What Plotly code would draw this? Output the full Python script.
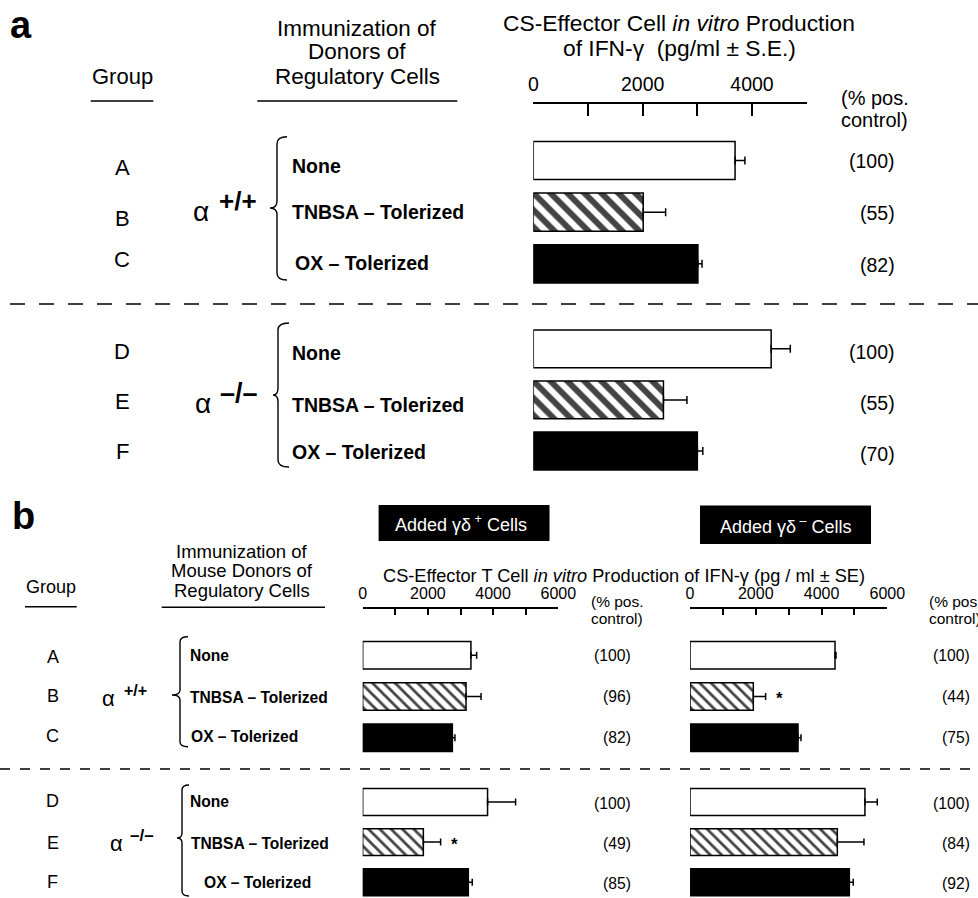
import plotly.graph_objects as go

W, H = 978, 898
FONT = "Liberation Sans, Arial, Helvetica, sans-serif"

# ---------------- data ----------------
rows_top = ["A", "B", "C"]
rows_bot = ["D", "E", "F"]
treatments = ["None", "TNBSA – Tolerized", "OX – Tolerized"]

# panel a : IFN-gamma (pg/ml) and S.E.
ifn_a_top = [3690, 2010, 3010]
err_a_top = [180, 410, 75]
ifn_a_bot = [4350, 2380, 3000]
err_a_bot = [350, 430, 100]
pct_a_top = [100, 55, 82]
pct_a_bot = [100, 55, 70]

# panel b : added gamma-delta+ cells
ifn_bp_top = [3320, 3170, 2750]
err_bp_top = [175, 460, 80]
ifn_bp_bot = [3830, 1860, 3240]
err_bp_bot = [860, 530, 120]
pct_bp_top = [100, 96, 82]
pct_bp_bot = [100, 49, 85]
star_bp_top = ["", "", ""]
star_bp_bot = ["", "*", ""]

# panel b : added gamma-delta- cells
ifn_bm_top = [4410, 1925, 3285]
err_bm_top = [30, 375, 90]
ifn_bm_bot = [5320, 4480, 4845]
err_bm_bot = [375, 810, 120]
pct_bm_top = [100, 44, 75]
pct_bm_bot = [100, 84, 92]
star_bm_top = ["", "*", ""]
star_bm_bot = ["", "", ""]

ticks_a = [0, 2000, 4000]
ticklabels_a = ["0", "2000", "4000"]
ticks_b = [0, 2000, 4000, 6000]
ticklabels_b = ["0", "2000", "4000", "6000"]
minor_step = 1000

fills = ["white", "white", "black"]
hatches = ["", "\\", ""]


# ---------------- helpers ----------------
def px(x):
    return x / W


def py(y):
    return 1 - y / H


fig = go.Figure()


def add_bars(vals, errs, rows, xa, ya, width, hsize, hsol, capw):
    fig.add_trace(go.Bar(
        orientation="h", x=vals, y=rows, xaxis=xa, yaxis=ya, width=width,
        marker=dict(color=fills, line=dict(color="black", width=1.5),
                    pattern=dict(shape=hatches, fgcolor="black", bgcolor="white",
                                 fgopacity=1, size=hsize, solidity=hsol)),
        error_x=dict(type="data", symmetric=False, array=errs,
                     arrayminus=[0] * len(errs), color="black",
                     thickness=1.5, width=capw),
        showlegend=False, hoverinfo="skip"))


add_bars(ifn_a_top, err_a_top, rows_top, "x", "y", 0.74, 12, 0.5, 4)
add_bars(ifn_a_bot, err_a_bot, rows_bot, "x2", "y2", 0.74, 12, 0.5, 4)
add_bars(ifn_bp_top, err_bp_top, rows_top, "x3", "y3", 0.67, 8, 0.35, 3.5)
add_bars(ifn_bp_bot, err_bp_bot, rows_bot, "x4", "y4", 0.67, 8, 0.35, 3.5)
add_bars(ifn_bm_top, err_bm_top, rows_top, "x5", "y3", 0.67, 8, 0.35, 3.5)
add_bars(ifn_bm_bot, err_bm_bot, rows_bot, "x6", "y4", 0.67, 8, 0.35, 3.5)


def yax(rows, top, bot, first, spacing, anchor):
    return dict(domain=[py(bot), py(top)], type="category",
                categoryorder="array", categoryarray=rows,
                range=[(bot - first) / spacing, (top - first) / spacing],
                visible=False, fixedrange=True, anchor=anchor)


def xax_vis(x0, x1, rng, tv, tt, liney, ticklen, fsize, standoff):
    return dict(domain=[px(x0), px(x1)], range=rng, anchor="free",
                position=py(liney), side="top", ticks="inside",
                ticklen=ticklen, tickwidth=1.5, tickcolor="black",
                showline=True, linecolor="black", linewidth=1.5,
                tickmode="array", tickvals=tv, ticktext=tt,
                minor=dict(tick0=0, dtick=minor_step, ticks="inside",
                           ticklen=ticklen, tickwidth=1.5, tickcolor="black",
                           showgrid=False),
                showgrid=False, zeroline=False,
                tickfont=dict(size=fsize, color="black", family=FONT),
                ticklabelstandoff=standoff, fixedrange=True)


def xax_hid(x0, x1, rng, anchor):
    return dict(domain=[px(x0), px(x1)], range=rng, anchor=anchor,
                visible=False, fixedrange=True)


A_X0, A_X1 = 533.3, 806.7
BP_X0, BP_X1 = 362.7, 558.3
BM_X0, BM_X1 = 690.0, 887.3

fig.update_layout(
    width=W, height=H, margin=dict(l=0, r=0, t=0, b=0, autoexpand=False),
    paper_bgcolor="white", plot_bgcolor="rgba(0,0,0,0)",
    font=dict(family=FONT, color="black"),
    barmode="overlay",
    xaxis=xax_vis(A_X0, A_X1, [0, 5000], ticks_a, ticklabels_a, 103.3, 12, 19.5, 4),
    xaxis2=xax_hid(A_X0, A_X1, [0, 5000], "y2"),
    xaxis3=xax_vis(BP_X0, BP_X1, [0, 6000], ticks_b, ticklabels_b, 608.3, 6, 16, 2),
    xaxis4=xax_hid(BP_X0, BP_X1, [0, 6000], "y4"),
    xaxis5=xax_vis(BM_X0, BM_X1, [0, 6000], ticks_b, ticklabels_b, 608.3, 6, 16, 2),
    xaxis6=xax_hid(BM_X0, BM_X1, [0, 6000], "y4"),
    yaxis=yax(rows_top, 125, 295, 160.5, 51.65, "x"),
    yaxis2=yax(rows_bot, 313, 487, 348.8, 51.1, "x2"),
    yaxis3=yax(rows_top, 628, 766, 655.3, 41.25, "x3"),
    yaxis4=yax(rows_bot, 778, 898, 802.0, 40.1, "x4"),
)

ann = []


def text(t, x, y, size, bold=False, xanchor="center", color="black"):
    if bold:
        t = "<b>" + t + "</b>"
    ann.append(dict(text=t, x=px(x), y=py(y), xref="paper", yref="paper",
                    xanchor=xanchor, yanchor="middle", showarrow=False,
                    font=dict(size=size, color=color, family=FONT)))


# ---------- panel a text ----------
text("a", 8, 25, 38, bold=True, xanchor="left")
text("Group", 122, 76, 22)
text("Immunization of", 357, 28, 22.5)
text("Donors of", 357, 52, 22.5)
text("Regulatory Cells", 357, 76.5, 22.5)
text("CS-Effector Cell <i>in vitro</i> Production", 679, 23, 22.8)
text("of IFN-γ  (pg/ml ± S.E.)", 679, 48, 22.8)
text("(% pos.", 839, 98, 20, xanchor="left")
text("control)", 839, 120, 20, xanchor="left")

for r, yv in zip(rows_top + rows_bot, [167.5, 218, 260, 352, 401.5, 451.5]):
    text(r, 122, yv, 22)
for t, yv in zip(treatments, [165.7, 212.3, 263.3]):
    text(t, 290 if t != "OX – Tolerized" else 292.5, yv, 19.5, bold=True, xanchor="left")
for t, yv in zip(treatments, [353.3, 405, 451.7]):
    text(t, 290, yv, 19.5, bold=True, xanchor="left")
text("α", 201, 211, 28)
text("+/+", 237.5, 201, 26, bold=True)
text("α", 202.5, 403, 28)
text("–/–", 239, 393, 27, bold=True)

# ---------- panel b text ----------
text("b", 10, 516, 38, bold=True, xanchor="left")
text("Group", 51, 586.5, 18)
text("Immunization of", 241.7, 551.5, 18.5)
text("Mouse Donors of", 241.7, 570.5, 18.5)
text("Regulatory Cells", 241.7, 590, 18.5)
text("CS-Effector T Cell <i>in vitro</i> Production of IFN-γ (pg / ml ± SE)", 624, 575.6, 18.2)
text("Added γδ<sup> +</sup> Cells", 461, 523, 18, color="white")
text("Added γδ<sup> –</sup> Cells", 786, 525.5, 18, color="white")
text("(% pos.", 588.5, 601.7, 15.5, xanchor="left")
text("control)", 588.5, 618.3, 15.5, xanchor="left")
text("(% pos.", 926.5, 601.7, 15.5, xanchor="left")
text("control)", 926.5, 618.3, 15.5, xanchor="left")

for r, yv in zip(rows_top + rows_bot, [656.5, 695.5, 735.5, 800.5, 843.3, 881.7]):
    text(r, 52.5, yv, 18)
for t, xv, yv in zip(treatments, [188.3, 188.3, 189.3], [655, 697.3, 736.7]):
    text(t, xv, yv, 15.6, bold=True, xanchor="left")
for t, xv, yv in zip(treatments, [188.3, 189.3, 201.7], [801.7, 843.3, 882.3]):
    text(t, xv, yv, 15.6, bold=True, xanchor="left")
text("α", 108.3, 698.5, 22)
text("+/+", 135.8, 690.5, 16, bold=True)
text("α", 116.7, 843.5, 22)
text("–/–", 141.7, 835.5, 17, bold=True)


# percentages and stars tied to the bar rows
def pct(vals, rows, yref, xright, size, yshift=0):
    for v, r in zip(vals, rows):
        ann.append(dict(text=f"({v})", x=px(xright), y=r, xref="paper", yref=yref,
                        xanchor="right", yanchor="middle", showarrow=False,
                        yshift=yshift, font=dict(size=size, color="black", family=FONT)))


pct(pct_a_top, rows_top, "y", 896.7, 19.5, -1)
pct(pct_a_bot, rows_bot, "y2", 896.7, 19.5, -3)
pct(pct_bp_top, rows_top, "y3", 633.3, 15.7)
pct(pct_bp_bot, rows_bot, "y4", 633.3, 15.7, -1)
pct(pct_bm_top, rows_top, "y3", 971.7, 15.7)
pct(pct_bm_bot, rows_bot, "y4", 971.7, 15.7, -1)


def stars(flags, vals, errs, rows, xref, yref):
    for f, v, e, r in zip(flags, vals, errs, rows):
        if f:
            ann.append(dict(text="<b>" + f + "</b>", x=v + e, y=r, xref=xref, yref=yref,
                            xanchor="center", yanchor="middle", showarrow=False,
                            xshift=13.5, yshift=-2,
                            font=dict(size=17, color="black", family=FONT)))


stars(star_bp_top, ifn_bp_top, err_bp_top, rows_top, "x3", "y3")
stars(star_bp_bot, ifn_bp_bot, err_bp_bot, rows_bot, "x4", "y4")
stars(star_bm_top, ifn_bm_top, err_bm_top, rows_top, "x5", "y3")
stars(star_bm_bot, ifn_bm_bot, err_bm_bot, rows_bot, "x6", "y4")

fig.update_layout(annotations=ann)

# ---------------- shapes ----------------
shapes = []


def hline(x0, x1, y, width=1.5, dash="solid"):
    shapes.append(dict(type="line", xref="paper", yref="paper",
                       x0=px(x0), x1=px(x1), y0=py(y), y1=py(y),
                       line=dict(color="black", width=width, dash=dash)))


def brace(cusp, xl, tip, top, mid, bot, r=7):
    def p(x, y):
        return f"{px(x):.5f},{py(y):.5f}"
    path = (f"M {p(tip, top)} Q {p(xl, top)} {p(xl, top + r)} "
            f"L {p(xl, mid - r)} Q {p(xl, mid)} {p(cusp, mid)} "
            f"Q {p(xl, mid)} {p(xl, mid + r)} "
            f"L {p(xl, bot - r)} Q {p(xl, bot)} {p(tip, bot)}")
    shapes.append(dict(type="path", xref="paper", yref="paper", path=path,
                       line=dict(color="black", width=1.4)))


# underlines
hline(90.7, 153.3, 101)
hline(257.3, 457.3, 101)
hline(25, 76.7, 606.7)
hline(161.7, 325, 607.3)
# dashed separators
hline(10, 978, 304, 1.5, "15px,14px")
hline(0, 978, 769, 1.3, "10px,10px")
# braces
brace(270, 277, 287, 136.7, 208, 280)
brace(273, 278, 289, 323, 395, 467)
brace(172, 180, 188, 636.7, 695, 746.7, 5)
brace(177, 182, 189, 785, 838, 896, 5)
# black label boxes
for (x0, y0, x1, y1) in [(378.6, 505, 549.5, 541), (700, 505.5, 871, 544)]:
    shapes.append(dict(type="rect", xref="paper", yref="paper",
                       x0=px(x0), x1=px(x1), y0=py(y1), y1=py(y0),
                       fillcolor="black", line=dict(width=0), layer="below"))

fig.update_layout(shapes=shapes)
fig.write_html("out.html")
